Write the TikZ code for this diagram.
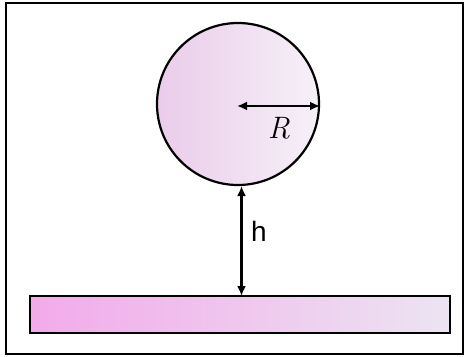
\documentclass[tikz,border=0pt]{standalone}
\usepackage{fontspec}
\newfontfamily\hfont{Liberation Sans}
\usetikzlibrary{arrows.meta}
\definecolor{pinkA}{RGB}{242,170,234}
\definecolor{pinkB}{RGB}{236,228,242}
\definecolor{pinkC}{RGB}{234,204,234}
\definecolor{pinkD}{RGB}{246,240,248}
\tikzset{
  dimarrow/.style={line width=2.2pt, {Latex[length=10pt,width=9pt]}-{Latex[length=10pt,width=9pt]}},
  outline/.style={line width=2.2pt, draw=black}
}
\begin{document}
\begin{tikzpicture}[x=1pt,y=-1pt]
\useasboundingbox (0,0) rectangle (465,356);
\fill[white] (0,0) rectangle (465,356);
\draw[line width=2pt] (6,3) rectangle (463,354);
% sphere
\node[circle, outline, minimum size=162pt, inner sep=0pt, left color=pinkC, right color=pinkD] (ball) at (238,104) {};
\coordinate (ctr) at (237,106);
\coordinate (rim) at (320,106);
\draw[dimarrow] (ctr) -- (rim);
\node[inner sep=0pt, line width=0.5pt, draw=none] (Rl) at (279,128) {\fontsize{31}{34}\selectfont\itshape R};
% plate
\node[rectangle, outline, minimum width=420pt, minimum height=37pt, inner sep=0pt, left color=pinkA, right color=pinkB] (plate) at (240,314.5) {};
\coordinate (top) at (241.5,186);
\coordinate (bot) at (241.5,296);
\draw[dimarrow] (top) -- (bot);
\node (hl) at (259,231) {\hfont\fontsize{28}{30}\selectfont h};
\end{tikzpicture}
\end{document}
